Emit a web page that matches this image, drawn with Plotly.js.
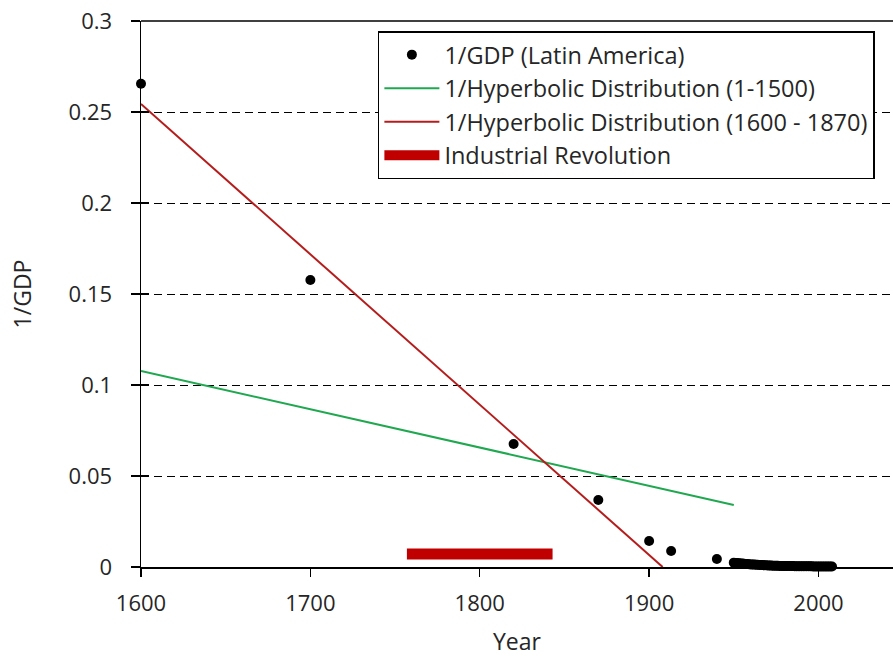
<!DOCTYPE html>
<html>
<head>
<meta charset="utf-8">
<script src="https://cdn.plot.ly/plotly-3.0.1.min.js"></script>
<style>html,body{margin:0;padding:0;background:#fff;}#chart{width:893px;height:657px;}</style>
</head>
<body>
<div id="chart"></div>
<script>
// 1/GDP for Latin America (reading of the picture)
const gdpYears = [1600, 1700, 1820, 1870, 1900, 1913, 1940,
  1950,1951,1952,1953,1954,1955,1956,1957,1958,1959,
  1960,1961,1962,1963,1964,1965,1966,1967,1968,1969,
  1970,1971,1972,1973,1974,1975,1976,1977,1978,1979,
  1980,1981,1982,1983,1984,1985,1986,1987,1988,1989,
  1990,1991,1992,1993,1994,1995,1996,1997,1998,1999,
  2000,2001,2002,2003,2004,2005,2006,2007,2008];
const invGdp = [0.2655, 0.1577, 0.0676, 0.0368, 0.0143, 0.0088, 0.0044,
  0.00240,0.00226,0.00219,0.00212,0.00199,0.00188,0.00181,0.00168,0.00161,0.00155,
  0.00144,0.00137,0.00132,0.00128,0.00121,0.00115,0.00110,0.00106,0.00100,0.00093,
  0.00087,0.00082,0.00077,0.00072,0.00067,0.00065,0.00062,0.00059,0.00056,0.00053,
  0.00050,0.00050,0.00051,0.00052,0.00050,0.00049,0.00047,0.00045,0.00045,0.00044,
  0.00045,0.00043,0.00041,0.00040,0.00038,0.00038,0.00036,0.00034,0.00033,0.00033,
  0.00032,0.00032,0.00032,0.00031,0.00030,0.00028,0.00027,0.00026,0.00025];

// 1/Hyperbolic distribution fitted on 1-1500
const hyp1Years = [1600, 1950];
const hyp1Vals = [0.1077, 0.0341];

// 1/Hyperbolic distribution fitted on 1600-1870
const hyp2Years = [1600, 1908];
const hyp2Vals = [0.2544, 0.0];

// Industrial Revolution period
const irYears = [1757, 1843];
const irVals = [0.0071, 0.0071];

const xTicks = [1600, 1700, 1800, 1900, 2000];
const yTicks = [0, 0.05, 0.1, 0.15, 0.2, 0.25, 0.3];
const yTickText = ['0', '0.05', '0.1', '0.15', '0.2', '0.25', '0.3'];

const FONT = 'Open Sans, Liberation Sans, sans-serif';
const TXT = '#262626';

const traces = [
  {x: gdpYears, y: invGdp, mode: 'markers', type: 'scatter', name: '1/GDP (Latin America)',
   marker: {color: '#000', size: 10}, legendgroup: 'a', cliponaxis: false},
  {x: hyp1Years, y: hyp1Vals, mode: 'lines', type: 'scatter', name: '1/Hyperbolic Distribution (1-1500)',
   line: {color: '#1fa84f', width: 2}, legendgroup: 'b'},
  {x: hyp2Years, y: hyp2Vals, mode: 'lines', type: 'scatter', name: '1/Hyperbolic Distribution (1600 - 1870)',
   line: {color: '#b51d1d', width: 2}, legendgroup: 'c'},
  {x: irYears, y: irVals, mode: 'lines', type: 'scatter', name: 'Industrial Revolution',
   line: {color: '#c00000', width: 11}, legendgroup: 'd'},
  {x: [xTicks[0]], y: [yTicks[0]], yaxis: 'y2', mode: 'markers', type: 'scatter',
   marker: {opacity: 0}, showlegend: false, hoverinfo: 'skip'}
];

const layout = {
  width: 893, height: 657,
  margin: {l: 141, r: 0, t: 21, b: 90},
  paper_bgcolor: '#fff', plot_bgcolor: '#fff',
  font: {family: FONT, color: TXT, size: 22},
  showlegend: true,
  legend: {x: 0.315, y: 0.981, xanchor: 'left', yanchor: 'top',
    bordercolor: '#000', borderwidth: 1.5, bgcolor: '#fff',
    font: {family: FONT, size: 23.5, color: TXT},
    traceorder: 'grouped', tracegroupgap: 0, itemwidth: 55},
  xaxis: {range: [1600, 2044], tickvals: xTicks, ticks: 'outside', ticklen: 8, tickwidth: 1.5,
    tickcolor: '#000', showline: true, linecolor: '#000', linewidth: 1.5,
    showgrid: false, zeroline: false, ticklabelstandoff: 8,
    tickfont: {family: FONT, size: 22, color: TXT},
    title: {text: 'Year', font: {family: FONT, size: 23, color: TXT}, standoff: 20}},
  yaxis: {range: [0, 0.3], tickvals: yTicks, ticktext: yTickText, ticks: 'outside', ticklen: 9, tickwidth: 1.5,
    tickcolor: '#000', showline: true, linecolor: '#000', linewidth: 1.5,
    showgrid: true, gridcolor: '#000', gridwidth: 1, griddash: '8px,5px',
    zeroline: false, ticklabelstandoff: 14,
    tickfont: {family: FONT, size: 22, color: TXT},
    title: {text: '1/GDP', font: {family: FONT, size: 23, color: TXT}, standoff: 30}},
  yaxis2: {range: [0, 0.3], overlaying: 'y', side: 'left', anchor: 'x', tickvals: yTicks, ticks: 'inside', ticklen: 8, tickwidth: 1.5,
    tickcolor: '#000', showticklabels: false, showgrid: false, zeroline: false, showline: false},
  shapes: [
    {type: 'line', xref: 'paper', yref: 'paper', x0: 0, x1: 1, y0: 1, y1: 1,
     line: {color: '#000', width: 1.5}}
  ]
};

Plotly.newPlot('chart', traces, layout, {displayModeBar: false, staticPlot: true});
</script>
</body>
</html>
